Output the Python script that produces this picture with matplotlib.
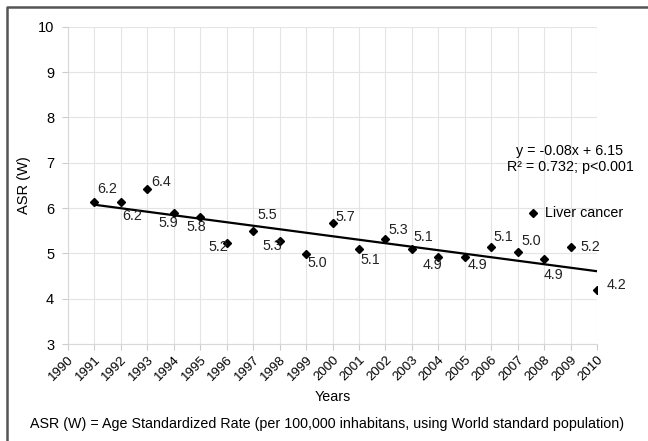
import numpy as np
import matplotlib.pyplot as plt
from matplotlib.lines import Line2D

plt.rcParams['font.family'] = ['Liberation Sans', 'DejaVu Sans']

# data
years = [1991, 1992, 1993, 1994, 1995, 1996, 1997, 1998, 1999, 2000,
         2001, 2002, 2003, 2004, 2005, 2006, 2007, 2008, 2009, 2010]
asr = [6.14, 6.14, 6.42, 5.89, 5.80, 5.23, 5.50, 5.28, 4.98, 5.67,
       5.09, 5.31, 5.09, 4.92, 4.93, 5.14, 5.03, 4.87, 5.15, 4.20]
labels = ['6.2', '6.2', '6.4', '5.9', '5.8', '5.2', '5.5', '5.3', '5.0', '5.7',
          '5.1', '5.3', '5.1', '4.9', '4.9', '5.1', '5.0', '4.9', '5.2', '4.2']
year_ticks = list(range(1990, 2011))

# label offsets (points) relative to each marker
label_dx = [9, 8, 10, -4, -3, -6, 10, -5, 8, 9, 8, 9, 8, -4, 9, 9, 10, 7, 14, 14]
label_dy = [9, -10, 5, -7, -7, -3, 11, -4, -6, 4, -8, 7, 9, -6, -6, 7, 8, -11, 0, 3]

fig = plt.figure(figsize=(6.48, 4.41), dpi=100)
ax = fig.add_axes([68 / 648, 1 - 344 / 441, (597 - 68) / 648, (344 - 26.7) / 441])

ax.plot(years, asr, linestyle='none', marker='D', markersize=4.5,
        color='black', zorder=3)

# linear trend
coef = np.polyfit(range(1, len(years) + 1), asr, 1)
fit_x = np.array([years[0], years[-1]])
fit_y = coef[0] * (fit_x - years[0] + 1) + coef[1]
ax.plot(fit_x, fit_y, color='black', linewidth=1.6, zorder=2)

for x, y, lab, dx, dy in zip(years, asr, labels, label_dx, label_dy):
    ax.annotate(lab, (x, y), xytext=(dx, dy), textcoords='offset points',
                ha='center', va='center', fontsize=10.3, color='#222222')

ax.set_xlim(1990, 2010)
ax.set_ylim(3, 10)
ax.set_xticks(year_ticks)
ax.set_xticklabels([str(y) for y in year_ticks], rotation=45, ha='right',
                   rotation_mode='anchor', fontsize=9.5)
ax.set_yticks(range(3, 11))
ax.tick_params(axis='y', labelsize=10.5, length=4, color='#cccccc', pad=6)
ax.tick_params(axis='x', length=4, color='#cccccc', pad=3)
ax.grid(True, color='#e4e4e4', linewidth=0.8)
ax.set_axisbelow(True)
for s in ax.spines.values():
    s.set_visible(False)
ax.spines['left'].set_visible(True)
ax.spines['left'].set_color('#d8d8d8')
ax.spines['bottom'].set_visible(True)
ax.spines['bottom'].set_color('#d8d8d8')

ax.set_ylabel('ASR (W)', fontsize=10.5, labelpad=5)
fig.text(333 / 648, 1 - 397 / 441, 'Years', ha='center', va='center', fontsize=10.3)
fig.text(327 / 648, 1 - 424 / 441,
         'ASR (W) = Age Standardized Rate (per 100,000 inhabitans, using World standard population)',
         ha='center', va='center', fontsize=10.3)

fig.text(570 / 648, 1 - 151 / 441, 'y = -0.08x + 6.15', ha='center', va='center', fontsize=10.3)
fig.text(570 / 648, 1 - 167 / 441, 'R² = 0.732; p<0.001', ha='center', va='center', fontsize=10.3)

# legend entry
fig.add_artist(Line2D([533 / 648], [1 - 213 / 441], marker='D', markersize=4.5,
                      color='black', linestyle='none'))
fig.text(545 / 648, 1 - 213 / 441, 'Liver cancer', ha='left', va='center', fontsize=10.3)

# outer frame (only top and left visible in the crop)
fig.add_artist(Line2D([7 / 648, 7 / 648, 1.0], [0.0, 1 - 7 / 441, 1 - 7 / 441],
                      color='#555555', linewidth=1.8))

fig.savefig('out.png', dpi=100)
